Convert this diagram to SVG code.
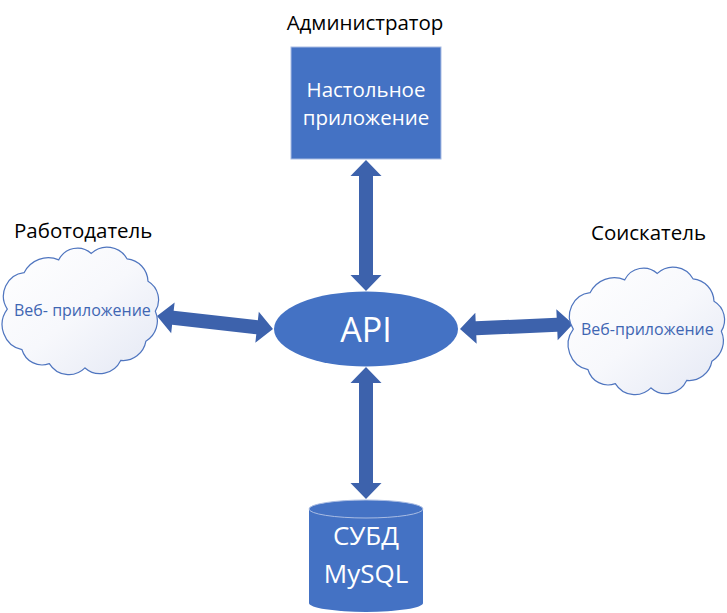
<svg xmlns="http://www.w3.org/2000/svg" width="727" height="613" viewBox="0 0 727 613">
<style>
.lbl{font-family:"Open Sans","Noto Sans","Liberation Sans",sans-serif;fill:#000;font-size:20.5px}
.w{font-family:"Open Sans","Noto Sans","Liberation Sans",sans-serif;fill:#fff;text-anchor:middle}
.c{font-family:"Open Sans","Noto Sans","Liberation Sans",sans-serif;fill:#3f66b3;font-size:16px}
.arr{fill:#3d62ac}
.cloud{fill:url(#cg);stroke:#4f75bf;stroke-width:1.15}
</style>
<defs>
<linearGradient id="cg" x1="0" y1="0" x2="1" y2="1">
<stop offset="0" stop-color="#ffffff"/>
<stop offset="0.5" stop-color="#f7f8fc"/>
<stop offset="1" stop-color="#e4e8f4"/>
</linearGradient>
<path id="cloudShape" d="M6,58 A22,22 0 0 1 22,24 A26,26 0 0 1 55,12 A20,20 0 0 1 86,6 A22,22 0 0 1 120,11 A22,22 0 0 1 140,32 A20,20 0 0 1 147,60 A22,22 0 0 1 138,88 A22,22 0 0 1 114,106 A22,22 0 0 1 80,113 A22,22 0 0 1 46,109 A20,20 0 0 1 20,96 A24,24 0 0 1 6,58 Z"/>
</defs>
<g id="connectors">
<polygon class="arr" points="366,160 381.5,176 373,176 373,275 381.5,275 366,291 350.5,275 359,275 359,176 350.5,176"/>
<polygon class="arr" points="366,367 381.5,383 373,383 373,483 381.5,483 366,499 350.5,483 359,483 359,383 350.5,383"/>
<polygon class="arr" transform="translate(157,316) rotate(6.4)" points="0,0 16,-15.5 16,-7 100.7,-7 100.7,-15.5 116.7,0 100.7,15.5 100.7,7 16,7 16,15.5"/>
<polygon class="arr" transform="translate(460,329) rotate(-2.5)" points="0,0 16,-15.5 16,-7 97.1,-7 97.1,-15.5 113.1,0 97.1,15.5 97.1,7 16,7 16,15.5"/>
</g>
<g id="admin-label"><text class="lbl" x="365" y="30" text-anchor="middle">Администратор</text></g>
<g id="desktop">
<rect x="291" y="47" width="150" height="112" fill="#4472c4" stroke="#a9bce3" stroke-width="1"/>
<text class="w" x="366" y="97" font-size="20.5">Настольное</text>
<text class="w" x="366" y="125" font-size="20.5">приложение</text>
</g>
<g id="api">
<ellipse cx="366" cy="329" rx="92" ry="37.5" fill="#4472c4"/>
<text class="w" x="366" y="342" font-size="34">API</text>
</g>
<g id="employer-label"><text class="lbl" x="14" y="238">Работодатель</text></g>
<g id="employer-web">
<use href="#cloudShape" class="cloud" transform="translate(1,247) scale(1.05,1.07)"/>
<text class="c" x="14" y="316">Веб- приложение</text>
</g>
<g id="seeker-label"><text class="lbl" x="591" y="240">Соискатель</text></g>
<g id="seeker-web">
<use href="#cloudShape" class="cloud" transform="translate(567,267) scale(1.05,1.07)"/>
<text class="c" x="581" y="335">Веб-приложение</text>
</g>
<g id="db">
<path d="M309,509 L309,603 A57,9 0 0 0 423,603 L423,509 Z" fill="#4472c4"/>
<ellipse cx="366" cy="509" rx="57" ry="9" fill="#4472c4" stroke="#a9bce3" stroke-width="1"/>
<text class="w" x="366" y="545" font-size="26">СУБД</text>
<text class="w" x="366" y="583" font-size="26">MySQL</text>
</g>
</svg>
